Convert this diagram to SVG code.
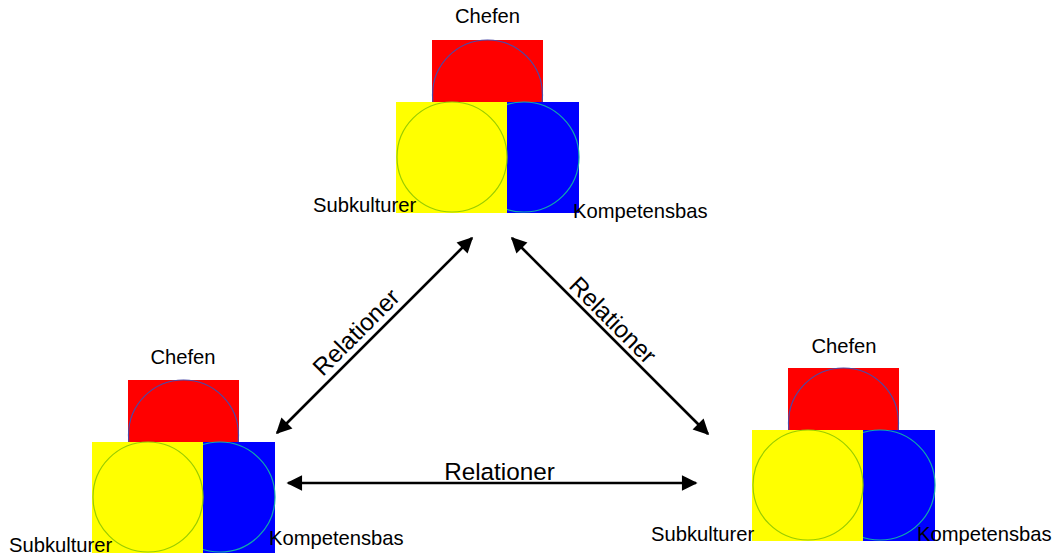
<svg xmlns="http://www.w3.org/2000/svg" width="1058" height="556" viewBox="0 0 1058 556">
<style>
.lbl{font-family:"Liberation Sans",Arial,sans-serif;font-size:20.2px;fill:#000}
.rel{font-family:"Liberation Sans",Arial,sans-serif;font-size:24.3px;fill:#000}
.r{fill:#FF0000}
.rc{fill:#FF0000;stroke:#4a4aa8;stroke-width:1.2}
.y{fill:#FFFF00}
.yc{fill:#FFFF00;stroke:#99cc00;stroke-width:1.2}
.b{fill:#0000FF}
.bc{fill:#0000FF;stroke:#11aaaa;stroke-width:1.2}
.con{stroke:#000;stroke-width:2.6;fill:none;marker-start:url(#ah);marker-end:url(#ah)}
</style>
<defs>
<marker id="ah" viewBox="0 0 10 10" refX="9" refY="5" markerWidth="6.5" markerHeight="6" orient="auto-start-reverse" markerUnits="strokeWidth">
<path d="M0,0 L10,5 L0,10 z" fill="#000"/>
</marker>
<g id="stack">
<rect class="r" x="0" y="0" width="111" height="62"/>
<circle class="rc" cx="55.5" cy="55" r="55"/>
<rect class="b" x="36" y="62" width="111" height="111"/>
<circle class="bc" cx="92" cy="117" r="55"/>
<rect class="y" x="-36" y="62" width="111" height="111"/>
<circle class="yc" cx="20" cy="117" r="55"/>
</g>
</defs>
<rect width="1058" height="556" fill="#fff"/>
<g id="connectors">
<line class="con" x1="472" y1="238" x2="277" y2="433"/>
<line class="con" x1="512" y1="238" x2="708" y2="434"/>
<line class="con" x1="288" y1="483" x2="696" y2="483"/>
<text class="rel" transform="translate(362,338) rotate(-45)" text-anchor="middle">Relationer</text>
<text class="rel" transform="translate(607,326) rotate(45)" text-anchor="middle">Relationer</text>
<text class="rel" x="499.5" y="480" text-anchor="middle">Relationer</text>
</g>
<g id="node-top">
<use href="#stack" x="432" y="40"/>
<text class="lbl" x="487.5" y="23" text-anchor="middle">Chefen</text>
<text class="lbl" x="313" y="212">Subkulturer</text>
<text class="lbl" x="573" y="218">Kompetensbas</text>
</g>
<g id="node-left">
<use href="#stack" x="128" y="380"/>
<text class="lbl" x="183" y="364" text-anchor="middle">Chefen</text>
<text class="lbl" x="9" y="552">Subkulturer</text>
<text class="lbl" x="269" y="545">Kompetensbas</text>
</g>
<g id="node-right">
<use href="#stack" x="788" y="368"/>
<text class="lbl" x="844" y="353" text-anchor="middle">Chefen</text>
<text class="lbl" x="651" y="541">Subkulturer</text>
<text class="lbl" x="917" y="541">Kompetensbas</text>
</g>
</svg>
